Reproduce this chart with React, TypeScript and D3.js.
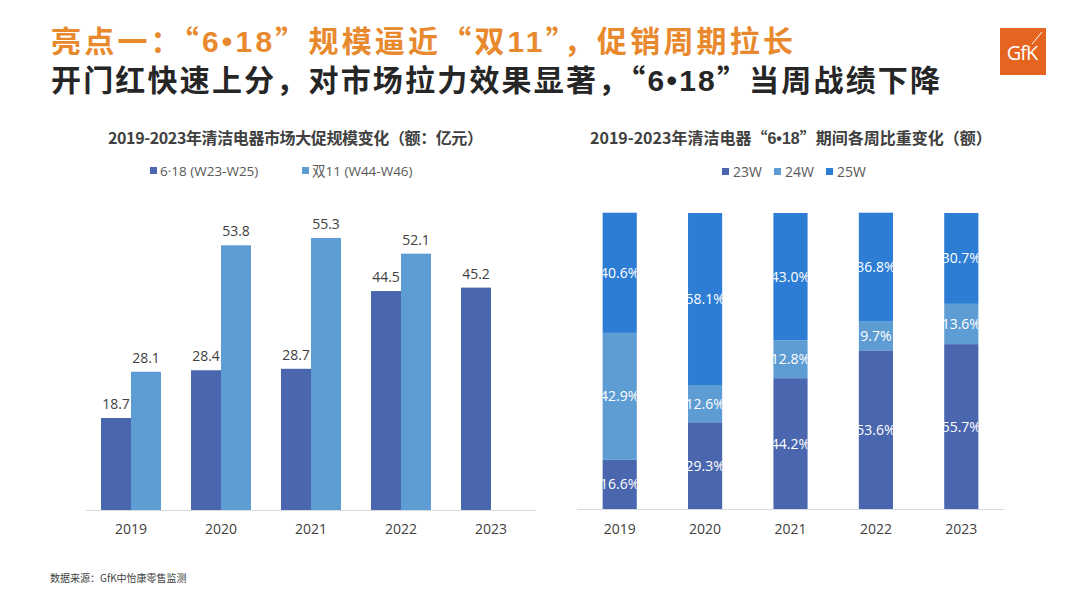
import React from "react";
import * as d3 from "d3";

const years = ["2019", "2020", "2021", "2022", "2023"];
const series618 = [18.7, 28.4, 28.7, 44.5, 45.2];
const series1111: (number | null)[] = [28.1, 53.8, 55.3, 52.1, null];
const leftLegend = ["6·18 (W23-W25)", "双11 (W44-W46)"];

const weekKeys = ["23W", "24W", "25W"];
const w23 = [16.6, 29.3, 44.2, 53.6, 55.7];
const w24 = [42.9, 12.6, 12.8, 9.7, 13.6];
const w25 = [40.6, 58.1, 43.0, 36.8, 30.7];

const DARK = "#4A66AE";
const LIGHT = "#5E9DD3";
const BRIGHT = "#2D7DD4";
const FONT = "'Noto Sans CJK SC', 'Noto Sans', sans-serif";
const LAT = "'Open Sans', 'Noto Sans CJK SC', sans-serif";
const LATB = "'Liberation Sans', 'Noto Sans CJK SC', sans-serif";

export default function App() {
  const W = 1080, H = 608;
  const lx = d3.scaleBand<string>().domain(years).range([86, 536]);
  const ly = d3.scaleLinear().domain([0, 60]).range([510, 510 - 60 * 4.92]);
  const barW = 30;
  const rx = d3.scaleBand<string>().domain(years).range([577, 1004]).paddingInner(0.6).paddingOuter(0.3);
  const ry = d3.scaleLinear().domain([0, 100]).range([509, 213]);
  const stackData = years.map((y, i) => ({ year: y, "23W": w23[i], "24W": w24[i], "25W": w25[i] }));
  const stack = d3.stack<any>().keys(weekKeys)(stackData);
  const stackColors = [DARK, LIGHT, BRIGHT];

  return (
    <svg width={W} height={H} style={{ position: "absolute", left: 0, top: 0, background: "#fff" }} fontFamily={FONT}>
      <defs>
        {years.map((y) => (
          <clipPath id={"clip" + y} key={y}>
            <rect x={rx(y) as number} y={ry(100)} width={rx.bandwidth()} height={ry(0) - ry(100)} />
          </clipPath>
        ))}
      </defs>
      <rect x={0} y={0} width={W} height={H} fill="#fff" />
      {/* Header */}
      <text x={51} y={52} fontSize={30} fontWeight={700} fill="#E8892E" textLength={742} lengthAdjust="spacing">
        亮点一：“<tspan fontFamily={LATB}>6•18</tspan>”规模逼近“双<tspan fontFamily={LATB}>11</tspan>”，促销周期拉长
      </text>
      <text x={51} y={91} fontSize={30} fontWeight={700} fill="#262626" textLength={889} lengthAdjust="spacing">
        开门红快速上分，对市场拉力效果显著，“<tspan fontFamily={LATB}>6•18</tspan>”当周战绩下降
      </text>
      {/* Logo */}
      <rect x={1000} y={28} width={46} height={47} fill="#E5641F" />
      <text x={1022} y={60} fontSize={20} fill="#fff" textAnchor="middle" fontFamily="'Open Sans', sans-serif" letterSpacing={-1}>GfK</text>
      <line x1={1032} y1={44} x2={1042} y2={32} stroke="#fff" strokeWidth={1} />

      {/* Left chart title & legend */}
      <text x={108} y={144} fontSize={16} fontWeight={700} fill="#404040" textLength={375} lengthAdjust="spacing">2019-2023年清洁电器市场大促规模变化（额：亿元）</text>
      <rect x={150} y={167} width={7} height={7} fill={DARK} />
      <text x={160} y={176} fontSize={13.5} fill="#595959" fontFamily={LAT}>{leftLegend[0]}</text>
      <rect x={302} y={167} width={7} height={7} fill={LIGHT} />
      <text x={312} y={176} fontSize={13.5} fill="#595959" fontFamily={LAT}>{leftLegend[1]}</text>

      {/* Left bars */}
      {years.map((y, i) => {
        const c = (lx(y) as number) + lx.bandwidth() / 2;
        const v1 = series618[i];
        const v2 = series1111[i];
        return (
          <g key={y}>
            <rect x={c - barW} y={ly(v1)} width={barW} height={ly(0) - ly(v1)} fill={DARK} />
            <text x={c - barW / 2} y={ly(v1) - 9} fontSize={14} fill="#404040" textAnchor="middle" fontFamily={LAT}>{v1.toFixed(1)}</text>
            {v2 != null && (
              <>
                <rect x={c} y={ly(v2)} width={barW} height={ly(0) - ly(v2)} fill={LIGHT} />
                <text x={c + barW / 2} y={ly(v2) - 9} fontSize={14} fill="#404040" textAnchor="middle" fontFamily={LAT}>{v2.toFixed(1)}</text>
              </>
            )}
            <text x={c} y={534} fontSize={14} fill="#404040" textAnchor="middle" fontFamily={LAT}>{y}</text>
          </g>
        );
      })}
      <line x1={86} x2={536} y1={510.5} y2={510.5} stroke="#D9D9D9" strokeWidth={1} />

      {/* Right chart title & legend */}
      <text x={590} y={144} fontSize={16} fontWeight={700} fill="#404040">
        2019-2023年清洁电器“<tspan fontFamily={LATB}>6•18</tspan>”期间各周比重变化（额）
      </text>
      {weekKeys.map((k, i) => (
        <g key={k}>
          <rect x={722 + i * 52} y={168} width={7} height={7} fill={stackColors[i]} />
          <text x={733 + i * 52} y={177} fontSize={14} fill="#595959" fontFamily={LAT}>{k}</text>
        </g>
      ))}

      {/* Right stacked bars */}
      {stack.map((layer, li) => (
        <g key={weekKeys[li]}>
          {layer.map((d, i) => {
            const x = rx(years[i]) as number;
            const y0 = ry(d[1]);
            const y1 = ry(d[0]);
            return <rect key={i} x={x} y={y0} width={rx.bandwidth()} height={y1 - y0} fill={stackColors[li]} />;
          })}
        </g>
      ))}
      {stack.map((layer, li) => (
        <g key={"l" + weekKeys[li]}>
          {layer.map((d, i) => {
            const x = (rx(years[i]) as number) + rx.bandwidth() / 2;
            const ym = (ry(d[1]) + ry(d[0])) / 2;
            const v = (d.data as any)[weekKeys[li]] as number;
            return (
              <text key={i} x={x} y={ym + 5} fontSize={14} fill="#fff" textAnchor="middle" fontFamily={LAT} clipPath={`url(#clip${years[i]})`}>
                {v.toFixed(1)}%
              </text>
            );
          })}
        </g>
      ))}
      {years.map((y) => (
        <text key={y} x={(rx(y) as number) + rx.bandwidth() / 2} y={534} fontSize={14} fill="#404040" textAnchor="middle" fontFamily={LAT}>{y}</text>
      ))}
      <line x1={577} x2={1004} y1={509.5} y2={509.5} stroke="#D9D9D9" strokeWidth={1} />

      {/* Footer */}
      <text x={50} y={582} fontSize={10} fill="#404040">数据来源：GfK中怡康零售监测</text>
    </svg>
  );
}
